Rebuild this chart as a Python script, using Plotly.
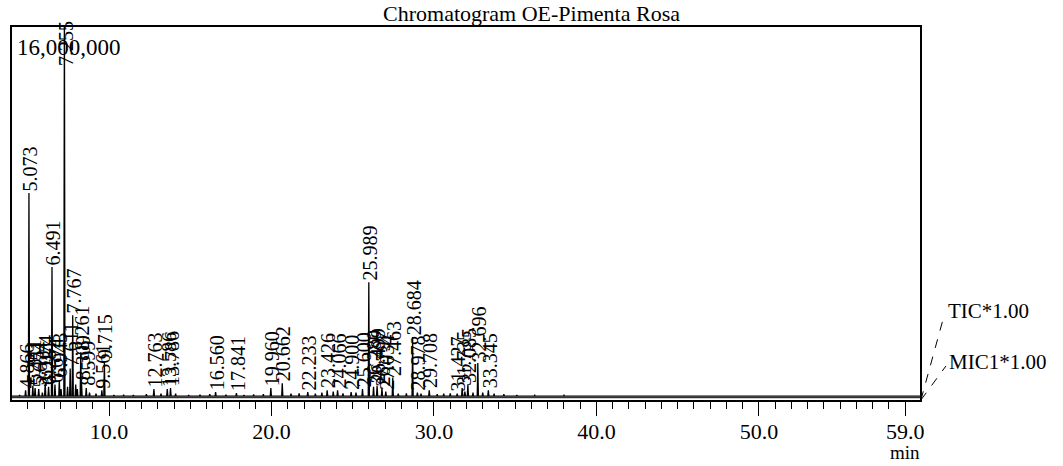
import plotly.graph_objects as go

# ---------------- data ----------------
title_text = "Chromatogram OE-Pimenta Rosa"
x_tick_values = [10, 20, 30, 40, 50, 59]
x_tick_labels = ["10.0", "20.0", "30.0", "40.0", "50.0", "59.0"]
y_max_label = "16,000,000"
y_max = 16_000_000
y_min = -170_000
time_start, time_end = 4.03, 59.91

peak_times = [4.866, 5.073, 5.311, 5.451, 5.674, 6.074, 6.281, 6.491, 6.674, 6.943,
              7.255, 7.611, 7.767, 8.261, 8.309, 8.599, 9.561, 9.715,
              12.763, 13.586, 13.786, 16.560, 17.841, 19.960, 20.662, 22.233,
              23.426, 24.066, 24.900, 25.600, 25.989, 26.280, 26.499, 26.797,
              27.034, 27.463, 28.684, 28.978, 29.708, 31.427, 31.735, 32.085,
              32.696, 33.345]
peak_labels = ["4.866", "5.073", "5.311", "5.451", "5.674", "6.074", "6.281", "6.491", "6.674", "6.943",
               "7.255", "7.611", "7.767", "8.261", "8.309", "8.599", "9.561", "9.715",
               "12.763", "13.586", "13.786", "16.560", "17.841", "19.960", "20.662", "22.233",
               "23.426", "24.066", "24.900", "25.600", "25.989", "26.280", "26.499", "26.797",
               "27.034", "27.463", "28.684", "28.978", "29.708", "31.427", "31.735", "32.085",
               "32.696", "33.345"]
peak_heights = [250_000, 8_800_000, 450_000, 350_000, 300_000, 600_000, 400_000, 5_600_000, 500_000, 700_000,
                17_500_000, 1_200_000, 3_500_000, 1_900_000, 600_000, 350_000, 250_000, 1_500_000,
                300_000, 300_000, 350_000, 170_000, 130_000, 350_000, 550_000, 170_000,
                250_000, 250_000, 170_000, 300_000, 4_940_000, 400_000, 450_000, 350_000,
                200_000, 800_000, 2_560_000, 150_000, 250_000, 100_000, 350_000, 500_000,
                1_430_000, 250_000]

minor_times = [4.5, 5.9, 7.05, 7.45, 7.95, 8.05, 8.8, 9.2, 10.3, 10.9, 11.5, 12.3, 13.2, 14.1,
               14.9, 15.6, 16.2, 17.2, 18.3, 18.9, 19.5, 21.2, 21.7, 22.7, 23.1, 23.8, 24.4,
               25.2, 27.8, 28.3, 29.2, 30.2, 30.6, 31.0, 31.9, 32.4, 33.0, 33.7, 34.3, 35.1,
               36.2, 38.0, 41.0]
minor_heights = [50_000, 150_000, 300_000, 400_000, 500_000, 300_000, 150_000, 100_000, 50_000,
                 60_000, 50_000, 80_000, 100_000, 100_000, 50_000, 60_000, 80_000, 60_000,
                 50_000, 70_000, 80_000, 100_000, 120_000, 100_000, 150_000, 200_000, 120_000,
                 150_000, 100_000, 120_000, 100_000, 80_000, 100_000, 120_000, 200_000, 150_000,
                 150_000, 100_000, 80_000, 50_000, 40_000, 40_000, 30_000]

mic1_times = [4.03, 59.91]
mic1_values = [-70_000, -70_000]

trace_names = ["TIC*1.00", "MIC1*1.00"]

# ---------------- build TIC line ----------------
half_w = 0.035
events = sorted(zip(peak_times + minor_times, peak_heights + minor_heights))
tic_x, tic_y = [time_start], [0]
for t, h in events:
    tic_x += [t - half_w, t, t + half_w]
    tic_y += [0, h, 0]
tic_x.append(time_end)
tic_y.append(0)

FONT = "Liberation Serif"

fig = go.Figure()
fig.add_trace(go.Scatter(x=mic1_times, y=mic1_values, mode="lines",
                         line=dict(color="black", width=1), name=trace_names[1],
                         showlegend=False, hoverinfo="skip"))
fig.add_trace(go.Scatter(x=tic_x, y=tic_y, mode="lines",
                         line=dict(color="black", width=1.3), name=trace_names[0],
                         showlegend=False))

annotations = []
for t, lab, h in zip(peak_times, peak_labels, peak_heights):
    if h > y_max:
        annotations.append(dict(x=t, y=y_max, xref="x", yref="y", text=lab, textangle=-90,
                                showarrow=False, xanchor="center", yanchor="top", yshift=8, xshift=1,
                                font=dict(family=FONT, size=20, color="black")))
    else:
        annotations.append(dict(x=t, y=h, xref="x", yref="y", text=lab, textangle=-90,
                                showarrow=False, xanchor="center", yanchor="bottom", xshift=1,
                                font=dict(family=FONT, size=20, color="black")))

annotations.append(dict(x=0.003, y=0.984, xref="paper", yref="paper", text=y_max_label,
                        showarrow=False, xanchor="left", yanchor="top",
                        font=dict(family=FONT, size=23, color="black")))
annotations.append(dict(x=59, y=-0.142, xref="x", yref="paper", text="min",
                        showarrow=False, xanchor="center", yanchor="middle",
                        font=dict(family=FONT, size=19, color="black")))
annotations.append(dict(x=1.0286, y=0.2386, xref="paper", yref="paper", text=trace_names[0],
                        showarrow=False, xanchor="left", yanchor="middle",
                        font=dict(family=FONT, size=21, color="black")))
annotations.append(dict(x=1.0297, y=0.1019, xref="paper", yref="paper", text=trace_names[1],
                        showarrow=False, xanchor="left", yanchor="middle",
                        font=dict(family=FONT, size=21, color="black")))

shapes = [
    dict(type="line", xref="paper", yref="paper", x0=1.001, y0=0.0, x1=1.0264, y1=0.2252,
         line=dict(color="black", width=1, dash="dash")),
    dict(type="line", xref="paper", yref="paper", x0=1.001, y0=0.0, x1=1.0286, y1=0.0912,
         line=dict(color="black", width=1, dash="dash")),
]

fig.update_layout(
    width=1063, height=466,
    margin=dict(l=12, r=143, t=27, b=66),
    paper_bgcolor="white", plot_bgcolor="white",
    title=dict(text=title_text, x=0.5, xref="container", xanchor="center",
               y=0.972, yref="container", yanchor="middle",
               font=dict(family=FONT, size=22, color="black")),
    xaxis=dict(range=[time_start, time_end], tickvals=x_tick_values, ticktext=x_tick_labels,
               ticks="outside", ticklen=14, tickwidth=1.3, tickcolor="black",
               ticklabelstandoff=-3,
               minor=dict(dtick=1, tick0=0, ticks="outside", ticklen=7, tickcolor="black", tickwidth=1),
               showline=True, linecolor="black", linewidth=1.5, mirror=True,
               showgrid=False, zeroline=False,
               tickfont=dict(family=FONT, size=22, color="black")),
    yaxis=dict(range=[y_min, y_max], showticklabels=False, ticks="",
               showline=True, linecolor="black", linewidth=1.5, mirror=True,
               showgrid=False, zeroline=False),
    annotations=annotations,
    shapes=shapes,
    showlegend=False,
)

# remove the default 8px page margin so the figure fills the window exactly
fig.write_html("out.html", config={"displayModeBar": False},
               post_script="document.body.style.margin='0';")
